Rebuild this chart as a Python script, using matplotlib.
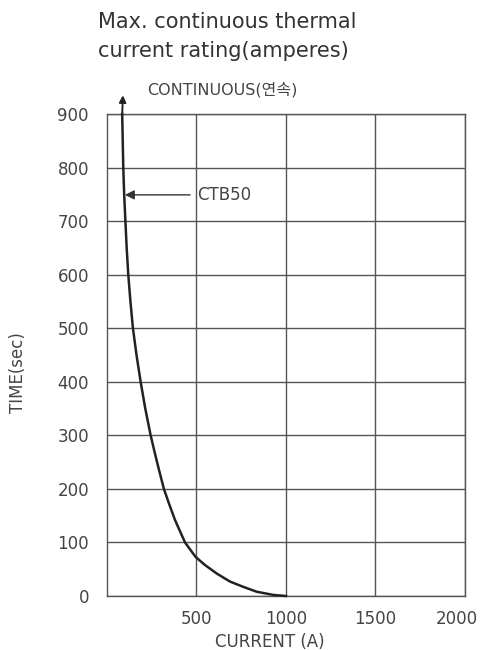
import matplotlib
matplotlib.use("Agg")
import matplotlib.pyplot as plt
from matplotlib.transforms import ScaledTranslation

plt.rcParams['font.family'] = ['DejaVu Sans', 'Noto Sans CJK KR']

# CTB50 thermal curve
time_sec = [900, 850, 800, 750, 700, 650, 600, 550, 500, 450, 400, 350, 300,
            266, 235, 200, 173, 142, 100, 73, 58, 42, 27, 17, 8, 2, 0]
current_a = [85, 88, 91, 96, 103, 110, 119, 131, 145, 165, 188, 214, 244,
             268, 291, 318, 346, 380, 436, 495, 547, 613, 687, 762, 836, 929, 1000]
x_ticks = [500, 1000, 1500, 2000]
y_ticks = [0, 100, 200, 300, 400, 500, 600, 700, 800, 900]

txt = '#444444'
fs = 12
fig = plt.figure(figsize=(4.83, 6.5), dpi=100)
ax = fig.add_axes([0.2215, 0.0831, 0.741, 0.7415])

ax.plot(current_a, time_sec, color='#222222', lw=1.8, clip_on=False,
        zorder=3, solid_joinstyle='round')
# arrow at top of curve (continuous)
ax.annotate('', xy=(89, 935), xytext=(85, 899), annotation_clip=False,
            arrowprops=dict(arrowstyle='-|>', color='#222222', lw=1.4,
                            mutation_scale=10, shrinkA=0, shrinkB=0))

ax.set_xlim(0, 2000)
ax.set_ylim(0, 900)
ax.set_xticks(x_ticks)
ax.set_yticks(y_ticks)
ax.grid(True, color='#555555', lw=1.0)
for s in ax.spines.values():
    s.set_color('#555555')
    s.set_linewidth(1.0)
ax.tick_params(axis='y', length=0, labelsize=fs, labelcolor=txt, pad=13)
ax.tick_params(axis='x', length=0, labelsize=fs, labelcolor=txt, pad=10)

# last x label sits a bit left of the right edge
lab = ax.get_xticklabels()[-1]
lab.set_transform(lab.get_transform() + ScaledTranslation(-0.08, 0, fig.dpi_scale_trans))

ax.set_xlabel('CURRENT (A)', fontsize=fs, color=txt, va='center', ha='center')
ax.set_ylabel('TIME(sec)', fontsize=fs, color=txt, va='center', ha='center')
ax.xaxis.set_label_coords(0.455, -0.095)
ax.yaxis.set_label_coords(-0.249, 0.463)

# CTB50 label
ax.annotate('CTB50', xy=(100, 749), xytext=(503, 749), fontsize=fs,
            color=txt, va='center', ha='left',
            arrowprops=dict(arrowstyle='-|>', color='#333333', lw=1.0,
                            mutation_scale=14, shrinkA=3, shrinkB=0))

fig.text(0.203, 0.957, 'Max. continuous thermal', fontsize=15,
         color='#333333', ha='left', va='baseline')
fig.text(0.203, 0.912, 'current rating(amperes)', fontsize=15,
         color='#333333', ha='left', va='baseline')
fig.text(0.46, 0.855, 'CONTINUOUS(연속)', fontsize=11.5, color=txt,
         ha='center', va='baseline')

fig.savefig('out.png', dpi=100)
